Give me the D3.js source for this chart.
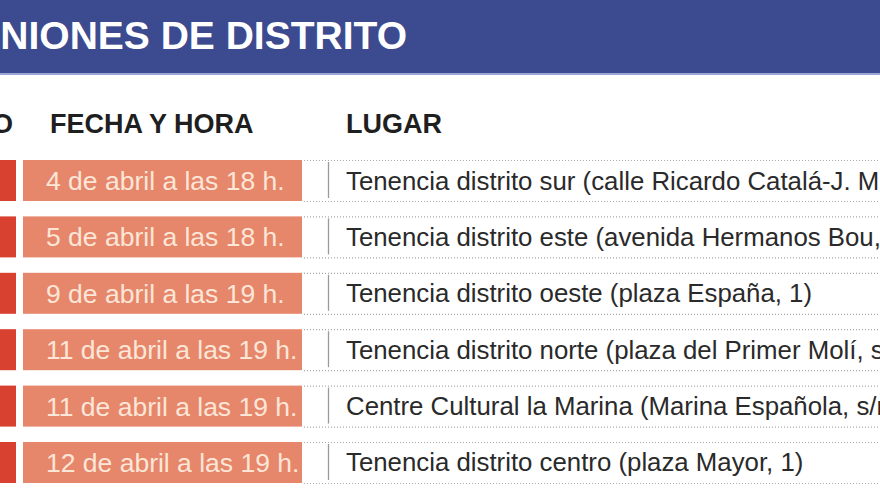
<!DOCTYPE html>
<html>
<head>
<meta charset="utf-8">
<script src="https://cdn.jsdelivr.net/npm/d3@7"></script>
<style>
  html, body { margin: 0; padding: 0; background: #fff; }
  svg { display: block; font-family: "Liberation Sans", Arial, sans-serif; }
</style>
</head>
<body>
<div id="chart"></div>
<script>
// data
const title = "REUNIONES DE DISTRITO";
const headers = ["DISTRITO", "FECHA Y HORA", "LUGAR"];
const fechas = [
  "4 de abril a las 18 h.",
  "5 de abril a las 18 h.",
  "9 de abril a las 19 h.",
  "11 de abril a las 19 h.",
  "11 de abril a las 19 h.",
  "12 de abril a las 19 h."
];
const lugares = [
  "Tenencia distrito sur (calle Ricardo Catalá-J. M",
  "Tenencia distrito este (avenida Hermanos Bou,",
  "Tenencia distrito oeste (plaza España, 1)",
  "Tenencia distrito norte (plaza del Primer Molí, s",
  "Centre Cultural la Marina (Marina Española, s/n",
  "Tenencia distrito centro (plaza Mayor, 1)"
];

const W = 880, H = 495;
const colBlue = "#3c4a8f", colRed = "#d8412f", colSalmon = "#e6866b";

const svg = d3.select("#chart").append("svg")
  .attr("width", W).attr("height", H)
  .attr("viewBox", `0 0 ${W} ${H}`);

// title band
svg.append("rect").attr("x", 0).attr("y", 0).attr("width", W).attr("height", 73).attr("fill", colBlue);
svg.append("rect").attr("x", 0).attr("y", 73).attr("width", W).attr("height", 2).attr("fill", "#9aa6d6");
svg.append("text")
  .attr("x", 407).attr("y", 49)
  .attr("text-anchor", "end")
  .attr("fill", "#fff")
  .style("font-size", "39px").style("font-weight", "bold")
  .text(title);

// column headers
const headerX = [13, 50, 346];
svg.selectAll("text.header")
  .data(headers)
  .enter().append("text")
    .attr("class", "header")
    .attr("x", (d, i) => headerX[i])
    .attr("y", 133)
    .attr("text-anchor", (d, i) => i === 0 ? "end" : "start")
    .attr("fill", "#1f1f1f")
    .style("font-size", "27px").style("font-weight", "bold")
    .text(d => d);

// rows
const y = d3.scaleBand()
  .domain(d3.range(fechas.length))
  .range([160, 483])
  .paddingInner(0.273)
  .paddingOuter(0);

const rows = svg.selectAll("g.row")
  .data(fechas.map((f, i) => ({ fecha: f, lugar: lugares[i], i })))
  .enter().append("g")
    .attr("class", "row")
    .attr("transform", d => `translate(0,${y(d.i)})`);

const bh = y.bandwidth();

rows.append("rect")
  .attr("x", 0).attr("y", 0).attr("width", 16).attr("height", bh)
  .attr("fill", colRed);

rows.append("rect")
  .attr("x", 23).attr("y", 0).attr("width", 279).attr("height", bh)
  .attr("fill", colSalmon);

rows.append("text")
  .attr("x", 46).attr("y", bh / 2 + 9.5)
  .attr("fill", "#fce6d8")
  .style("font-size", "26.5px")
  .text(d => d.fecha);

// dotted borders round the place cell
rows.append("line")
  .attr("x1", 304).attr("x2", W).attr("y1", 0.5).attr("y2", 0.5)
  .attr("stroke", "#a9a9a9").attr("stroke-width", 1.2).attr("stroke-dasharray", "1,2");
rows.append("line")
  .attr("x1", 304).attr("x2", W).attr("y1", bh + 0.5).attr("y2", bh + 0.5)
  .attr("stroke", "#a9a9a9").attr("stroke-width", 1.2).attr("stroke-dasharray", "1,2");
rows.append("line")
  .attr("x1", 328.5).attr("x2", 328.5).attr("y1", 2).attr("y2", bh - 3)
  .attr("stroke", "#9a9a9a").attr("stroke-width", 1.3);

rows.append("text")
  .attr("x", 346).attr("y", bh / 2 + 9)
  .attr("fill", "#2a2a2a")
  .style("font-size", "25.8px")
  .text(d => d.lugar);
</script>
</body>
</html>
